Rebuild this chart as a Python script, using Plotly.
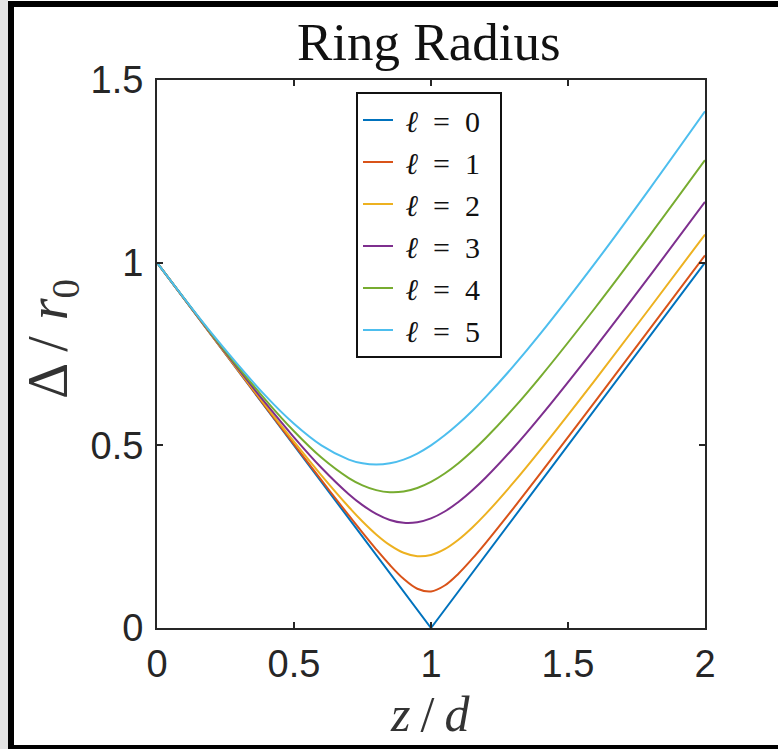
import plotly.graph_objects as go

# z/d sample positions
z = [0, 0.2, 0.4, 0.5, 0.6, 0.7, 0.75, 0.8, 0.85, 0.9, 0.95, 1.0,
     1.05, 1.1, 1.15, 1.2, 1.3, 1.4, 1.6, 1.8, 2.0]

# Delta / r0 for each l
l0 = [1.000, 0.800, 0.600, 0.500, 0.400, 0.300, 0.250, 0.200, 0.150, 0.100, 0.050, 0.000,
      0.050, 0.100, 0.150, 0.200, 0.300, 0.400, 0.600, 0.800, 1.000]
l1 = [1.000, 0.8002, 0.6013, 0.5025, 0.4045, 0.3081, 0.2610, 0.2154, 0.1724, 0.1345, 0.1074, 0.1000,
      0.1163, 0.1487, 0.1890, 0.2332, 0.3270, 0.4238, 0.6210, 0.8200, 1.0198]
l2 = [1.000, 0.8010, 0.6053, 0.5099, 0.4176, 0.3311, 0.2915, 0.2561, 0.2267, 0.2059, 0.1965, 0.2000,
      0.2159, 0.2417, 0.2746, 0.3124, 0.3970, 0.4883, 0.6800, 0.8773, 1.0770]
l3 = [1.000, 0.8022, 0.6119, 0.5220, 0.4386, 0.3662, 0.3363, 0.3124, 0.2958, 0.2879, 0.2894, 0.3000,
      0.3189, 0.3448, 0.3762, 0.4118, 0.4920, 0.5800, 0.7684, 0.9652, 1.1662]
l4 = [1.000, 0.8040, 0.6210, 0.5385, 0.4665, 0.4104, 0.3905, 0.3774, 0.3716, 0.3736, 0.3833, 0.4000,
      0.4230, 0.4512, 0.4838, 0.5200, 0.6003, 0.6882, 0.8773, 1.0763, 1.2806]
l5 = [1.000, 0.8062, 0.6325, 0.5590, 0.5000, 0.4610, 0.4507, 0.4472, 0.4507, 0.4610, 0.4776, 0.5000,
      0.5274, 0.5590, 0.5942, 0.6325, 0.7159, 0.8062, 1.0000, 1.2042, 1.4142]

series = [l0, l1, l2, l3, l4, l5]
names = ["\u00a0<i>ℓ</i>\u00a0\u00a0=\u00a0\u00a0" + str(k) + "\u00a0\u00a0" for k in range(6)]
colors = ["#0072BD", "#D95319", "#EDB120", "#7E2F8E", "#77AC30", "#4DBEEE"]

x_ticks = [0, 0.5, 1, 1.5, 2]
x_tick_text = ["0", "0.5", "1", "1.5", "2"]
y_ticks = [0, 0.5, 1, 1.5]
y_tick_text = ["0", "0.5", "1", "1.5"]

fig = go.Figure()
for i, (vals, nm, col) in enumerate(zip(series, names, colors)):
    fig.add_trace(go.Scatter(
        x=z, y=vals, name=nm, mode="lines",
        line=dict(color=col, width=2, shape="linear" if i == 0 else "spline", smoothing=1.0),
    ))

W, H = 778, 749
L, R, T, B = 157, 73, 80, 121
pw, ph = W - L - R, H - T - B

def px(xp):
    return (xp - L) / pw

def py(yp):
    return (H - B - yp) / ph

axis_col = "#262626"
serif = "Liberation Serif, DejaVu Serif, serif"
tick_font = dict(family="Liberation Sans, Arial, sans-serif", size=38, color=axis_col)

fig.update_layout(
    width=W, height=H,
    margin=dict(l=L, r=R, t=T, b=B),
    paper_bgcolor="white", plot_bgcolor="white",
    showlegend=True,
    legend=dict(
        x=px(356), y=py(92), xanchor="left", yanchor="top",
        bgcolor="white", bordercolor="#111111", borderwidth=2,
        font=dict(family=serif, size=30, color="#111111"),
        itemwidth=30, tracegroupgap=0,
    ),
    xaxis=dict(
        range=[0, 2], tickvals=x_ticks, ticktext=x_tick_text,
        showgrid=False, zeroline=False,
        showline=True, linecolor=axis_col, linewidth=2, mirror="ticks",
        ticks="inside", ticklen=6, tickwidth=1.5, tickcolor=axis_col,
        tickfont=tick_font, ticklabelstandoff=1,
    ),
    yaxis=dict(
        range=[0, 1.5], tickvals=y_ticks, ticktext=y_tick_text,
        showgrid=False, zeroline=False,
        showline=True, linecolor=axis_col, linewidth=2, mirror="ticks",
        ticks="inside", ticklen=6, tickwidth=1.5, tickcolor=axis_col,
        tickfont=tick_font, ticklabelstandoff=4,
    ),
    annotations=[
        dict(text="Ring Radius", xref="paper", yref="paper", x=px(429), y=py(42),
             xanchor="center", yanchor="middle", showarrow=False,
             font=dict(family=serif, size=53, color="#111111")),
        dict(text="<i>z</i>\u2009/\u2009<i>d</i>", xref="paper", yref="paper", x=px(430), y=py(714),
             xanchor="center", yanchor="middle", showarrow=False,
             font=dict(family=serif, size=50, color="#333333")),
        dict(text="Δ\u2009/\u2009\u200a<i>r</i><sub>0</sub>", xref="paper", yref="paper", x=px(52), y=py(339),
             xanchor="center", yanchor="middle", showarrow=False, textangle=-90,
             font=dict(family=serif, size=56, color="#333333")),
    ],
    shapes=[
        # light gray strip at far left
        dict(type="rect", xref="paper", yref="paper", x0=px(0), x1=px(8), y0=py(H), y1=py(0),
             fillcolor="#e3e3e3", line=dict(width=0), layer="below"),
        # black frame: left, top, bottom
        dict(type="rect", xref="paper", yref="paper", x0=px(8), x1=px(14), y0=py(745), y1=py(1),
             fillcolor="black", line=dict(width=0)),
        dict(type="rect", xref="paper", yref="paper", x0=px(8), x1=px(W), y0=py(7), y1=py(1),
             fillcolor="black", line=dict(width=0)),
        dict(type="rect", xref="paper", yref="paper", x0=px(8), x1=px(W), y0=py(H), y1=py(745),
             fillcolor="black", line=dict(width=0)),
    ],
)

fig.write_html("out.html")
